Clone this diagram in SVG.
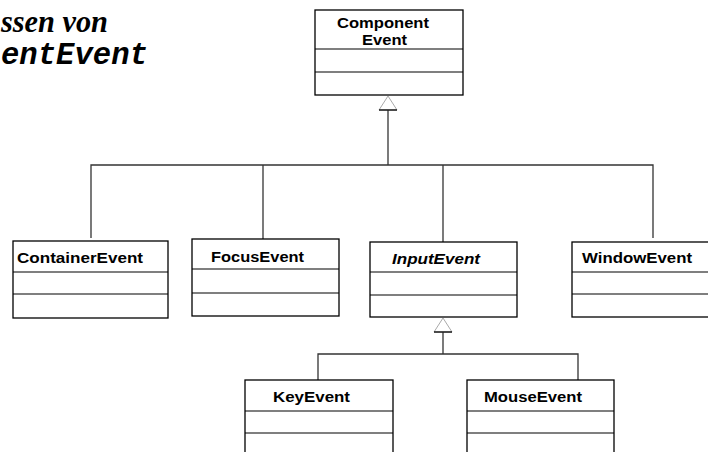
<svg xmlns="http://www.w3.org/2000/svg" width="708" height="452" viewBox="0 0 708 452">
<style>
.box{fill:#fff;stroke:#000;stroke-width:1.3}
.div{stroke:#000;stroke-width:1.2}
.lbl{font-family:"Liberation Sans",Arial,sans-serif;font-weight:bold;font-size:14.5px;fill:#000}
.it{font-style:italic}
.con{stroke:#333;stroke-width:1.3;fill:none}
.tri{fill:#fff;stroke:#aaa;stroke-width:1}
.base{stroke:#000;stroke-width:1.3}
.t1{font-family:"Liberation Serif","Times New Roman",serif;font-weight:bold;font-style:italic;font-size:31px;fill:#000}
.t2{font-family:"Liberation Mono","Courier New",monospace;font-weight:bold;font-style:italic;font-size:31px;fill:#000}
</style>
<rect width="708" height="452" fill="#fff"/>
<g id="title">
<text class="t1" x="1" y="32" textLength="107" lengthAdjust="spacingAndGlyphs">ssen von</text>
<text class="t2" x="1" y="64" textLength="147" lengthAdjust="spacingAndGlyphs">entEvent</text>
</g>
<g id="connectors">
<polyline class="con" points="91,238 91,165 653,165 653,238"/>
<line class="con" x1="388" y1="110" x2="388" y2="165"/>
<line class="con" x1="263" y1="165" x2="263" y2="239"/>
<line class="con" x1="443" y1="165" x2="443" y2="242"/>
<polygon class="tri" points="388,96 379,110 397,110"/>
<line class="base" x1="379" y1="110" x2="397" y2="110"/>
<polyline class="con" points="318,380 318,354 578,354 578,380"/>
<line class="con" x1="443" y1="332" x2="443" y2="354"/>
<polygon class="tri" points="443,318 434,332 452,332"/>
<line class="base" x1="434" y1="332" x2="452" y2="332"/>
</g>
<g id="ComponentEvent">
<rect class="box" x="315" y="10" width="148" height="85"/>
<line class="div" x1="315" y1="49" x2="463" y2="49"/>
<line class="div" x1="315" y1="72" x2="463" y2="72"/>
<text class="lbl" x="337" y="28" textLength="92" lengthAdjust="spacingAndGlyphs">Component</text>
<text class="lbl" x="362" y="45" textLength="45" lengthAdjust="spacingAndGlyphs">Event</text>
</g>
<g id="ContainerEvent">
<rect class="box" x="13" y="241" width="155" height="77"/>
<line class="div" x1="13" y1="272" x2="168" y2="272"/>
<line class="div" x1="13" y1="294" x2="168" y2="294"/>
<text class="lbl" x="17" y="263" textLength="126" lengthAdjust="spacingAndGlyphs">ContainerEvent</text>
</g>
<g id="FocusEvent">
<rect class="box" x="192" y="239" width="147" height="77"/>
<line class="div" x1="192" y1="269" x2="339" y2="269"/>
<line class="div" x1="192" y1="293" x2="339" y2="293"/>
<text class="lbl" x="211" y="262" textLength="93" lengthAdjust="spacingAndGlyphs">FocusEvent</text>
</g>
<g id="InputEvent">
<rect class="box" x="370" y="242" width="147" height="75"/>
<line class="div" x1="370" y1="272" x2="517" y2="272"/>
<line class="div" x1="370" y1="295" x2="517" y2="295"/>
<text class="lbl it" x="392" y="264" textLength="88" lengthAdjust="spacingAndGlyphs">InputEvent</text>
</g>
<g id="WindowEvent">
<rect class="box" x="572" y="242" width="150" height="75"/>
<line class="div" x1="572" y1="272" x2="722" y2="272"/>
<line class="div" x1="572" y1="294" x2="722" y2="294"/>
<text class="lbl" x="582" y="263" textLength="110" lengthAdjust="spacingAndGlyphs">WindowEvent</text>
</g>
<g id="KeyEvent">
<rect class="box" x="245" y="380" width="148" height="90"/>
<line class="div" x1="245" y1="411" x2="393" y2="411"/>
<line class="div" x1="245" y1="433" x2="393" y2="433"/>
<text class="lbl" x="273" y="402" textLength="77" lengthAdjust="spacingAndGlyphs">KeyEvent</text>
</g>
<g id="MouseEvent">
<rect class="box" x="467" y="380" width="147" height="90"/>
<line class="div" x1="467" y1="411" x2="614" y2="411"/>
<line class="div" x1="467" y1="433" x2="614" y2="433"/>
<text class="lbl" x="484" y="402" textLength="98" lengthAdjust="spacingAndGlyphs">MouseEvent</text>
</g>
</svg>
